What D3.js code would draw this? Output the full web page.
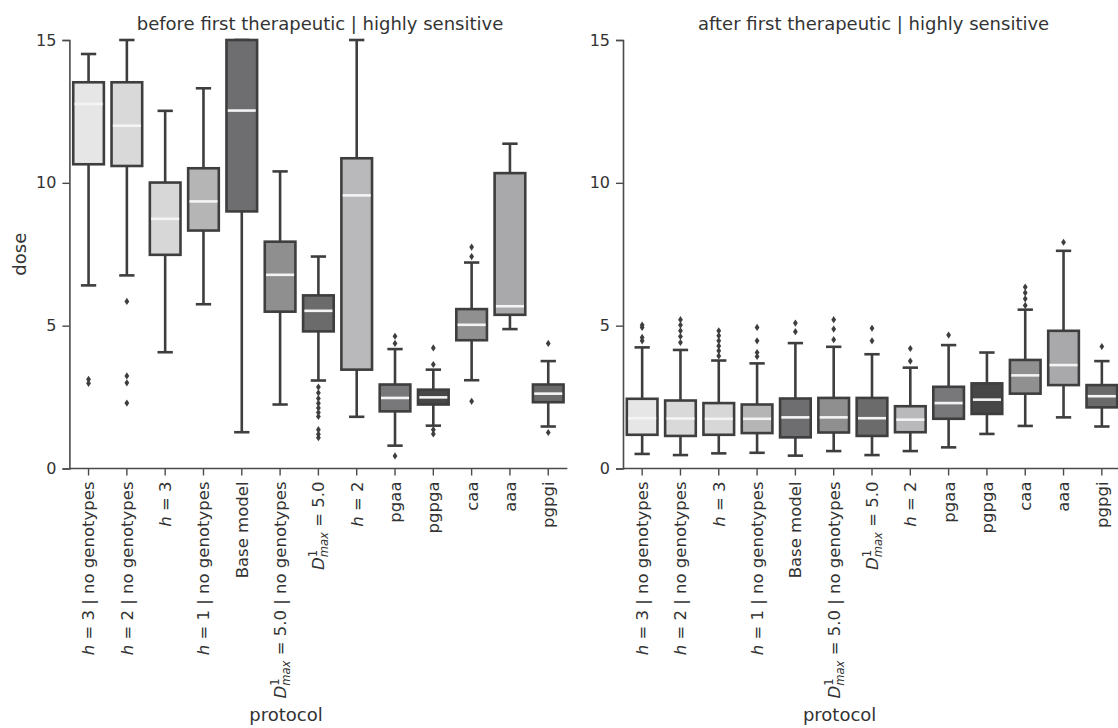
<!DOCTYPE html>
<html>
<head>
<meta charset="utf-8">
<script src="https://cdn.jsdelivr.net/npm/d3@7"></script>
<style>
  html, body { margin: 0; padding: 0; background: #fff; }
  svg { display: block; font-family: "DejaVu Sans", sans-serif; }
</style>
</head>
<body>
<svg id="chart" width="1118" height="728"></svg>
<script>
// ---- data ----
const categories = [
  "$h$ = 3 | no genotypes",
  "$h$ = 2 | no genotypes",
  "$h$ = 3",
  "$h$ = 1 | no genotypes",
  "Base model",
  "$D^1_{max}$ = 5.0 | no genotypes",
  "$D^1_{max}$ = 5.0",
  "$h$ = 2",
  "pgaa",
  "pgpga",
  "caa",
  "aaa",
  "pgpgi"
];
const boxColors = ["#e6e6e6", "#d9d9d9", "#d7d7d7", "#b5b5b5", "#6e6e70", "#8f8f8f",
                   "#6b6b6b", "#b9b9bb", "#78787a", "#474747", "#909090", "#a9a9ab", "#6a6a6a"];
const yTicks = [0, 5, 10, 15];
const panelTitles = ["before first therapeutic | highly sensitive", "after first therapeutic | highly sensitive"];

// before first therapeutic
const beforeLow  = [6.41, 6.76, 4.07, 5.75, 1.27, 2.24, 3.08, 1.81, 0.80, 1.50, 3.09, 4.88, 1.47];
const beforeQ1   = [10.65, 10.59, 7.48, 8.33, 9.00, 5.49, 4.80, 3.46, 2.00, 2.24, 4.49, 5.38, 2.32];
const beforeMed  = [12.76, 12.00, 8.74, 9.35, 12.53, 6.78, 5.52, 9.56, 2.47, 2.49, 5.03, 5.68, 2.62];
const beforeQ3   = [13.52, 13.52, 10.01, 10.51, 15.00, 7.94, 6.06, 10.86, 2.94, 2.76, 5.58, 10.34, 2.94];
const beforeHigh = [14.51, 15.00, 12.52, 13.31, 15.00, 10.40, 7.42, 15.00, 4.18, 3.46, 7.21, 11.37, 3.76];
const beforeOut  = [
  [3.12, 2.98],
  [5.85, 3.24, 3.00, 2.29],
  [], [], [], [],
  [2.85, 2.65, 2.45, 2.28, 2.12, 1.96, 1.82, 1.36, 1.20, 1.08],
  [],
  [4.63, 4.38, 0.44],
  [4.22, 3.64, 1.36, 1.21],
  [7.75, 7.42, 2.35],
  [],
  [4.38, 1.26]
];

// after first therapeutic
const afterLow  = [0.51, 0.47, 0.53, 0.55, 0.45, 0.61, 0.47, 0.61, 0.74, 1.21, 1.49, 1.79, 1.47];
const afterQ1   = [1.18, 1.14, 1.18, 1.24, 1.09, 1.26, 1.14, 1.27, 1.74, 1.91, 2.62, 2.92, 2.14];
const afterMed  = [1.76, 1.75, 1.74, 1.74, 1.79, 1.79, 1.76, 1.71, 2.29, 2.41, 3.26, 3.62, 2.53];
const afterQ3   = [2.44, 2.38, 2.29, 2.24, 2.45, 2.47, 2.47, 2.18, 2.86, 2.98, 3.80, 4.82, 2.92];
const afterHigh = [4.24, 4.15, 3.78, 3.68, 4.39, 4.26, 4.00, 3.53, 4.32, 4.06, 5.56, 7.62, 3.76];
const afterOut  = [
  [5.02, 4.94, 4.59, 4.47],
  [5.21, 5.02, 4.82, 4.62, 4.41],
  [4.82, 4.65, 4.47, 4.29, 4.12, 3.94],
  [4.94, 4.47, 4.06, 3.92],
  [5.09, 4.79],
  [5.21, 4.88, 4.51],
  [4.91, 4.47],
  [4.20, 3.76],
  [4.67],
  [],
  [6.35, 6.15, 5.94, 5.71],
  [7.92],
  [4.27]
];

// ---- layout ----
const svg = d3.select("#chart");
const plotTop = 40, plotBottom = 468.5, plotWidth = 498;
const panels = [
  { x0: 69.4, title: panelTitles[0], low: beforeLow, q1: beforeQ1, med: beforeMed, q3: beforeQ3, high: beforeHigh, out: beforeOut, ylabel: true },
  { x0: 623,  title: panelTitles[1], low: afterLow,  q1: afterQ1,  med: afterMed,  q3: afterQ3,  high: afterHigh,  out: afterOut,  ylabel: false }
];
const edge = "#3e3e3e";
const axisColor = "#4a4a4a";
const textColor = "#333";
const tickSize = 16.5;

const y = d3.scaleLinear().domain([0, 15]).range([plotBottom, plotTop]);

function renderLabel(text, label, size) {
  if (label.startsWith("$h$")) {
    text.append("tspan").attr("font-style", "italic").text("h");
    text.append("tspan").text(label.slice(3));
  } else if (label.startsWith("$D^1_{max}$")) {
    const small = size * 0.7;
    text.append("tspan").attr("font-style", "italic").text("D");
    text.append("tspan").attr("font-size", small).attr("dy", -size * 0.42).text("1");
    text.append("tspan").attr("font-size", small).attr("font-style", "italic")
        .attr("dx", -0.636 * small).attr("dy", size * 0.66).text("max");
    text.append("tspan").attr("dy", -size * 0.24).text(label.slice("$D^1_{max}$".length));
  } else {
    text.text(label);
  }
}

panels.forEach(p => {
  const g = svg.append("g").attr("transform", `translate(${p.x0},0)`);
  const x = d3.scaleBand().domain(categories).range([0, plotWidth]).paddingInner(0).paddingOuter(0);
  const bw = x.bandwidth() * 0.8;
  const cx = c => x(c) + x.bandwidth() / 2;

  // axes
  const yAxis = d3.axisLeft(y).tickValues(yTicks).tickSize(7).tickPadding(6).tickFormat(d3.format("d"));
  const ga = g.append("g").call(yAxis);
  ga.select(".domain").attr("stroke", axisColor).attr("stroke-width", 1.6);
  ga.selectAll(".tick line").attr("stroke", axisColor).attr("stroke-width", 1.4);
  ga.selectAll(".tick text").attr("fill", textColor).attr("font-size", 16).attr("font-family", "DejaVu Sans");

  const xAxis = d3.axisBottom(x).tickSize(7).tickFormat("");
  const gx = g.append("g").attr("transform", `translate(0,${plotBottom})`).call(xAxis);
  gx.select(".domain").attr("stroke", axisColor).attr("stroke-width", 1.6).attr("d", `M0.5,0H${plotWidth}`);
  gx.selectAll(".tick line").attr("stroke", axisColor).attr("stroke-width", 1.4);

  // x tick labels (rotated)
  categories.forEach(c => {
    const t = g.append("text")
      .attr("transform", `translate(${cx(c) + tickSize * 0.36},${plotBottom + 13}) rotate(-90)`)
      .attr("text-anchor", "end")
      .attr("font-size", tickSize)
      .attr("fill", textColor);
    renderLabel(t, c, tickSize);
  });

  // boxes
  categories.forEach((c, i) => {
    const gb = g.append("g");
    const xc = cx(c);
    // whiskers
    gb.append("line").attr("x1", xc).attr("x2", xc).attr("y1", y(p.q3[i])).attr("y2", y(p.high[i]))
      .attr("stroke", edge).attr("stroke-width", 2.6);
    gb.append("line").attr("x1", xc).attr("x2", xc).attr("y1", y(p.q1[i])).attr("y2", y(p.low[i]))
      .attr("stroke", edge).attr("stroke-width", 2.6);
    // caps
    [p.high[i], p.low[i]].forEach(v => {
      gb.append("line").attr("x1", xc - bw / 4).attr("x2", xc + bw / 4).attr("y1", y(v)).attr("y2", y(v))
        .attr("stroke", edge).attr("stroke-width", 2.6);
    });
    // box
    gb.append("rect").attr("x", xc - bw / 2).attr("width", bw)
      .attr("y", y(p.q3[i])).attr("height", y(p.q1[i]) - y(p.q3[i]))
      .attr("fill", boxColors[i]).attr("stroke", edge).attr("stroke-width", 2.6);
    // median
    gb.append("line").attr("x1", xc - bw / 2 + 1.3).attr("x2", xc + bw / 2 - 1.3)
      .attr("y1", y(p.med[i])).attr("y2", y(p.med[i]))
      .attr("stroke", "#f4f4f4").attr("stroke-width", 2.6);
    // fliers
    gb.selectAll("path.flier").data(p.out[i]).enter().append("path")
      .attr("class", "flier")
      .attr("d", "M0,-3.6L2.4,0L0,3.6L-2.4,0Z")
      .attr("transform", v => `translate(${xc},${y(v)})`)
      .attr("fill", edge);
  });

  // title
  svg.append("text").attr("x", p.x0 + 250.6).attr("y", 30).attr("text-anchor", "middle")
    .attr("font-size", 18).attr("fill", textColor).text(p.title);
  // x label
  svg.append("text").attr("x", p.x0 + 216.6).attr("y", 721).attr("text-anchor", "middle")
    .attr("font-size", 18).attr("fill", textColor).text("protocol");
  if (p.ylabel) {
    svg.append("text").attr("transform", `translate(26,${(plotTop + plotBottom) / 2}) rotate(-90)`)
      .attr("text-anchor", "middle").attr("font-size", 18).attr("fill", textColor).text("dose");
  }
});
</script>
</body>
</html>
